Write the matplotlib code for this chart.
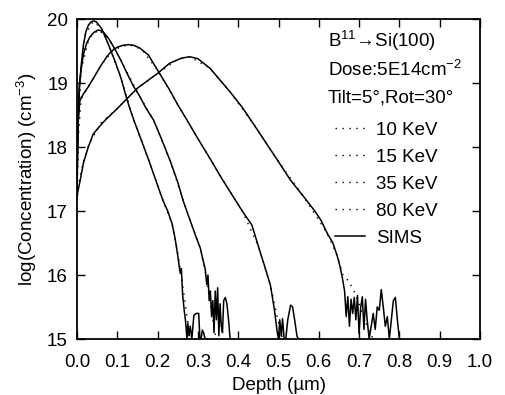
import matplotlib
matplotlib.use("Agg")
import matplotlib.pyplot as plt

plt.rcParams['font.family'] = ['Liberation Sans', 'DejaVu Sans']
plt.rcParams['mathtext.fontset'] = 'custom'
plt.rcParams['mathtext.rm'] = 'Liberation Sans'
plt.rcParams['mathtext.it'] = 'Liberation Sans:italic'
plt.rcParams['mathtext.bf'] = 'Liberation Sans:bold'

FS = 13.5

# === SIMS profiles (solid) ===
sims_10_x = [0.0, 0.001, 0.003, 0.006, 0.010, 0.016, 0.022, 0.028, 0.034, 0.040, 0.047, 0.055,
             0.061, 0.070, 0.080, 0.095, 0.110, 0.119, 0.130, 0.141, 0.160, 0.180, 0.200, 0.213,
             0.225, 0.236, 0.244, 0.250, 0.256, 0.259, 0.262, 0.266, 0.269, 0.273, 0.275, 0.278,
             0.281, 0.285, 0.290, 0.296, 0.302, 0.305, 0.308, 0.311, 0.314, 0.318]
sims_10_y = [17.2, 17.8, 18.4, 18.9, 19.25, 19.6, 19.8, 19.9, 19.95, 19.97, 19.96, 19.9,
             19.85, 19.72, 19.57, 19.33, 19.06, 18.85, 18.62, 18.42, 18.1, 17.76, 17.4, 17.17,
             17.0, 16.8, 16.55, 16.3, 16.03, 16.1, 15.7, 15.45, 15.3, 15.0, 15.25, 15.05,
             15.2, 15.0, 15.37, 15.4, 15.4, 15.0, 15.0, 15.14, 15.1, 15.0]

sims_15_x = [0.0, 0.001, 0.003, 0.006, 0.010, 0.016, 0.024, 0.032, 0.042, 0.053, 0.065, 0.078,
             0.095, 0.110, 0.125, 0.140, 0.155, 0.170, 0.190, 0.210, 0.232, 0.250, 0.263, 0.275,
             0.285, 0.295, 0.306, 0.312, 0.318, 0.322, 0.325, 0.328, 0.331, 0.334, 0.337, 0.340,
             0.343, 0.346, 0.349, 0.352, 0.355, 0.358, 0.361, 0.364, 0.368, 0.372, 0.376, 0.380]
sims_15_y = [17.2, 17.9, 18.6, 19.0, 19.2, 19.45, 19.62, 19.72, 19.79, 19.83, 19.8, 19.70,
             19.52, 19.34, 19.14, 18.95, 18.8, 18.62, 18.42, 18.12, 17.77, 17.45, 17.17, 16.95,
             16.78, 16.6, 16.42, 16.25, 16.1, 15.85, 16.0, 15.6, 15.75, 15.35, 15.6, 15.1,
             15.75, 15.3, 15.8, 15.05, 15.55, 15.2, 15.1, 15.6, 15.65, 15.55, 15.3, 15.0]

sims_35_x = [0.0, 0.001, 0.003, 0.007, 0.015, 0.028, 0.045, 0.060, 0.075, 0.086, 0.100, 0.115,
             0.128, 0.140, 0.155, 0.177, 0.200, 0.230, 0.250, 0.273, 0.300, 0.330, 0.360, 0.390,
             0.410, 0.434, 0.450, 0.465, 0.480, 0.490, 0.497, 0.500, 0.503, 0.507, 0.510, 0.514,
             0.518, 0.523, 0.530, 0.535, 0.540, 0.546, 0.550]
sims_35_y = [17.2, 17.8, 18.4, 18.72, 18.82, 18.94, 19.12, 19.28, 19.42, 19.5, 19.56, 19.59,
             19.6, 19.59, 19.55, 19.44, 19.2, 18.89, 18.66, 18.42, 18.13, 17.82, 17.5, 17.2,
             17.0, 16.78, 16.45, 16.15, 15.84, 15.45, 15.1, 15.0, 15.3, 15.05, 15.32, 15.0,
             15.0, 15.3, 15.53, 15.5, 15.3, 15.04, 15.0]

sims_80_x = [0.0, 0.002, 0.007, 0.016, 0.028, 0.040, 0.053, 0.070, 0.100, 0.120, 0.150, 0.200,
             0.230, 0.260, 0.280, 0.300, 0.330, 0.380, 0.410, 0.440, 0.480, 0.500, 0.530, 0.563,
             0.590, 0.605, 0.621, 0.635, 0.646, 0.652, 0.658, 0.664, 0.668, 0.672, 0.676, 0.680,
             0.684, 0.688, 0.692, 0.696, 0.700, 0.704, 0.708, 0.712, 0.716, 0.720, 0.725, 0.730,
             0.735, 0.740, 0.745, 0.750, 0.755, 0.760, 0.765, 0.770, 0.775, 0.780, 0.785, 0.790,
             0.795, 0.800]
sims_80_y = [17.2, 17.3, 17.45, 17.75, 18.0, 18.2, 18.3, 18.42, 18.6, 18.73, 18.92, 19.15,
             19.31, 19.39, 19.41, 19.38, 19.23, 18.86, 18.62, 18.34, 17.96, 17.77, 17.48, 17.22,
             17.0, 16.86, 16.65, 16.5, 16.29, 16.15, 15.97, 15.75, 15.35, 15.66, 15.2, 15.62,
             15.4, 15.65, 15.3, 15.68, 15.08, 15.5, 15.66, 15.15, 15.62, 15.3, 15.0, 15.2,
             15.4, 15.15, 15.5, 15.45, 15.77, 15.5, 15.2, 15.35, 15.0, 15.3, 15.6, 15.65,
             15.3, 15.0]

# === Simulated profiles (dotted) ===
sim_10_x = [0.0, 0.003, 0.010, 0.020, 0.040, 0.060, 0.080, 0.110, 0.141, 0.180, 0.213, 0.236,
            0.250, 0.262, 0.272, 0.280]
sim_10_y = [17.25, 18.3, 19.2, 19.75, 19.96, 19.86, 19.57, 19.06, 18.42, 17.76, 17.17, 16.8,
            16.35, 15.85, 15.4, 15.0]
sim_15_x = [0.0, 0.003, 0.010, 0.030, 0.053, 0.078, 0.110, 0.155, 0.190, 0.232, 0.263, 0.285,
            0.306, 0.320, 0.332, 0.345]
sim_15_y = [17.25, 18.5, 19.2, 19.7, 19.83, 19.7, 19.34, 18.8, 18.42, 17.77, 17.17, 16.78,
            16.42, 16.0, 15.5, 15.0]
sim_35_x = [0.0, 0.003, 0.010, 0.030, 0.060, 0.090, 0.128, 0.160, 0.200, 0.250, 0.300, 0.360,
            0.410, 0.450, 0.480, 0.495, 0.510]
sim_35_y = [17.25, 18.1, 18.75, 18.96, 19.28, 19.52, 19.6, 19.53, 19.2, 18.66, 18.13, 17.5,
            17.0, 16.45, 15.84, 15.4, 15.0]
sim_80_x = [0.0, 0.005, 0.015, 0.030, 0.060, 0.100, 0.150, 0.200, 0.250, 0.280, 0.330, 0.380,
            0.440, 0.500, 0.563, 0.621, 0.646, 0.660, 0.675, 0.687, 0.700, 0.720, 0.735]
sim_80_y = [17.25, 17.45, 17.75, 18.05, 18.38, 18.6, 18.92, 19.15, 19.37, 19.41, 19.23, 18.86,
            18.34, 17.77, 17.22, 16.65, 16.3, 16.0, 15.9, 15.75, 15.55, 15.2, 15.0]

sim_labels = ['10 KeV', '15 KeV', '35 KeV', '80 KeV']
header_lines = ['B$^{11}$\u2192Si(100)', 'Dose:5E14cm$^{-2}$', 'Tilt=5\u00b0,Rot=30\u00b0']

fig = plt.figure(figsize=(5.05, 3.95), dpi=100)
ax = fig.add_axes([77 / 505, 56 / 395, 403 / 505, 320 / 395])

dot_style = dict(color='black', linewidth=1.0, linestyle=(0, (1, 4)))
sims_style = dict(color='black', linewidth=1.1, linestyle='-')

sim_handles = []
for sx, sy, lab in zip([sim_10_x, sim_15_x, sim_35_x, sim_80_x],
                       [sim_10_y, sim_15_y, sim_35_y, sim_80_y], sim_labels):
    h, = ax.plot(sx, sy, label=lab, **dot_style)
    sim_handles.append(h)

for sx, sy in zip([sims_10_x, sims_15_x, sims_35_x, sims_80_x],
                  [sims_10_y, sims_15_y, sims_35_y, sims_80_y]):
    h_sims, = ax.plot(sx, sy, **sims_style)
h_sims.set_label('SIMS')

ax.set_xlim(0, 1.0)
ax.set_ylim(15, 20)
ax.set_xticks([i / 10 for i in range(11)])
ax.set_xticklabels([f'{i / 10:.1f}' for i in range(11)])
ax.set_yticks(range(15, 21))
ax.tick_params(direction='in', length=6, width=1, top=True, right=True,
               labelsize=FS)
ax.tick_params(axis='x', pad=11)
ax.tick_params(axis='y', pad=6.5)
for s in ax.spines.values():
    s.set_linewidth(1.3)

ax.set_xlabel('Depth (\u00b5m)', fontsize=FS, labelpad=4)
ax.set_ylabel('log(Concentration) (cm$^{-3}$)', fontsize=FS, labelpad=6)

# === Annotation block ===
for i, line in enumerate(header_lines):
    ax.text(0.622, 19.65 - i * 0.44, line, fontsize=FS, va='center', ha='left')

ax.legend(handles=sim_handles + [h_sims], labels=sim_labels + ['SIMS'],
          loc='upper left', bbox_to_anchor=(0.64, 0.68), frameon=False,
          fontsize=FS, labelspacing=0.53, handlelength=1.6, handletextpad=0.6,
          borderpad=0, borderaxespad=0)

fig.savefig('out.png', dpi=100)
